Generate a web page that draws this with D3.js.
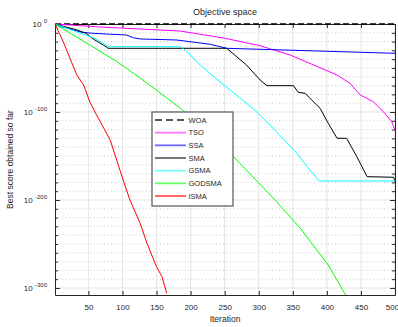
<!DOCTYPE html>
<html>
<head>
<meta charset="utf-8">
<script src="https://cdn.jsdelivr.net/npm/d3@7"></script>
<style>
body { margin: 0; background: #fff; }
text { font-family: "Liberation Sans", Arial, Helvetica, sans-serif; fill: #262626; }
</style>
</head>
<body>
<div id="chart"></div>
<script>
"use strict"

// series: iteration and log10 of best score
var woaIter = [1, 500];
var woaExp = [0, 0];
var tsoIter = [1, 67, 185, 251, 302, 346, 390, 415, 434, 449, 468, 483, 495, 500];
var tsoExp = [0, -3.4, -8, -16.3, -24.7, -35.2, -49.7, -58, -67.4, -80.7, -88.3, -99.7, -111, -120.5];
var ssaIter = [1, 28, 40, 57, 106, 116, 126, 180, 199, 229, 253, 500];
var ssaExp = [-1, -6.8, -9.4, -10.6, -12.5, -15.6, -17, -18.2, -20.1, -23.1, -27.6, -33.3];
var smaIter = [1, 33, 47, 57, 72, 79, 253, 282, 302, 312, 351, 358, 368, 390, 402, 415, 429, 444, 459, 498, 500];
var smaExp = [0, -6.8, -10.6, -17, -23.9, -27.6, -27.6, -46.6, -63.6, -70.1, -70.1, -77.6, -78.8, -95.8, -112.8, -129.9, -129.9, -150.8, -173.5, -174.2, -179.2];
var gsmaIter = [1, 57, 72, 79, 185, 192, 214, 243, 273, 297, 326, 356, 375, 389, 500];
var gsmaExp = [0, -15.6, -21.9, -25.8, -25.8, -29.5, -46.6, -65.6, -84.4, -99.7, -122.4, -146.9, -165.9, -178.4, -178.4];
var godsmaIter = [1, 52, 92, 140, 185, 263, 324, 361, 402, 429];
var godsmaExp = [0, -23.9, -42.8, -69.3, -95.8, -150.8, -200, -232.2, -273.9, -309.9];
var ismaIter = [1, 13, 23, 33, 43, 52, 62, 82, 101, 111, 126, 136, 150, 158, 165];
var ismaExp = [0, -20.1, -39, -57.9, -69.3, -88.3, -103.4, -131.8, -177.3, -200, -226.5, -249.2, -275.8, -287.2, -306];

var names = ['WOA', 'TSO', 'SSA', 'SMA', 'GSMA', 'GODSMA', 'ISMA'];
var xTicks = [50, 100, 150, 200, 250, 300, 350, 400, 450, 500];
var yTicks = [0, -100, -200, -300];

var series = [
    {name: names[0], iter: woaIter, exp: woaExp},
    {name: names[1], iter: tsoIter, exp: tsoExp},
    {name: names[2], iter: ssaIter, exp: ssaExp},
    {name: names[3], iter: smaIter, exp: smaExp},
    {name: names[4], iter: gsmaIter, exp: gsmaExp},
    {name: names[5], iter: godsmaIter, exp: godsmaExp},
    {name: names[6], iter: ismaIter, exp: ismaExp}
];
var colors = ['#000000', '#ff00ff', '#0000ff', '#000000', '#00ffff', '#00ff00', '#ff0000'];
var legendColors = ['#555555', '#ff77ff', '#6b6bff', '#666666', '#77ffff', '#66ff66', '#ff5555'];

var width = 398, height = 327;
var margin = {top: 24, right: 3, bottom: 32, left: 55};
var plotW = width - margin.left - margin.right;
var plotH = height - margin.top - margin.bottom;

var svg = d3.select("#chart")
    .append("svg")
    .attr("width", width)
    .attr("height", height);

var x = d3.scaleLinear().domain([1, 500]).range([0, plotW]);
var y = d3.scaleLinear().domain([0, -308]).range([0, plotH]);

var g = svg.append("g")
    .attr("transform", "translate(" + margin.left + "," + margin.top + ")");

// minor grid, dotted every 10 decades
var minor = d3.range(-10, -308, -10).filter(function(v) { return v % 100 !== 0; });
g.append("g").selectAll("line")
    .data(minor)
    .enter().append("line")
    .attr("x1", 0).attr("x2", plotW)
    .attr("y1", function(d) { return y(d); }).attr("y2", function(d) { return y(d); })
    .attr("stroke", "#bdbdbd")
    .attr("stroke-width", 0.8)
    .attr("stroke-dasharray", "1,2.5");

// major grid
g.append("g").selectAll("line")
    .data(yTicks)
    .enter().append("line")
    .attr("x1", 0).attr("x2", plotW)
    .attr("y1", function(d) { return y(d); }).attr("y2", function(d) { return y(d); })
    .attr("stroke", "#e3e3e3");
g.append("g").selectAll("line")
    .data(xTicks)
    .enter().append("line")
    .attr("x1", function(d) { return x(d); }).attr("x2", function(d) { return x(d); })
    .attr("y1", 0).attr("y2", plotH)
    .attr("stroke", "#e3e3e3");

// axes, ticks pointing inward
g.append("g")
    .attr("transform", "translate(0," + plotH + ")")
    .call(d3.axisBottom(x).tickValues(xTicks).tickSizeInner(-4).tickSizeOuter(0).tickPadding(9))
    .call(function(a) {
        a.select(".domain").attr("stroke", "#262626").attr("stroke-width", 1.2);
        a.selectAll("text").attr("font-size", 8).style("font-family", "Liberation Sans, Arial, sans-serif").attr("fill", "#262626");
        // last label sits at the window edge, keep it inside
        a.selectAll("text").filter(function(d) { return d === 500; }).attr("dx", -3);
    });
g.append("g")
    .call(d3.axisTop(x).tickValues(xTicks).tickSizeInner(-4).tickSizeOuter(0).tickFormat(""))
    .call(function(a) { a.select(".domain").attr("stroke", "#262626"); });

g.append("g")
    .call(d3.axisLeft(y).tickValues(yTicks).tickSizeInner(-5).tickSizeOuter(0).tickFormat(""))
    .call(function(a) { a.select(".domain").attr("stroke", "#262626"); });
g.append("g")
    .attr("transform", "translate(" + plotW + ",0)")
    .call(d3.axisRight(y).tickValues(yTicks).tickSizeInner(-5).tickSizeOuter(0).tickFormat(""))
    .call(function(a) { a.select(".domain").attr("stroke", "#262626"); });
g.append("g")
    .call(d3.axisLeft(y).tickValues(minor).tickSizeInner(-3).tickSizeOuter(0).tickFormat(""))
    .call(function(a) { a.select(".domain").remove(); });
g.append("g")
    .attr("transform", "translate(" + plotW + ",0)")
    .call(d3.axisRight(y).tickValues(minor).tickSizeInner(-3).tickSizeOuter(0).tickFormat(""))
    .call(function(a) { a.select(".domain").remove(); });
g.selectAll(".tick line").attr("stroke", "#262626");

// y tick labels as 10^n
var yLab = g.append("g").selectAll("text")
    .data(yTicks)
    .enter().append("text")
    .attr("x", -8)
    .attr("y", function(d) { return y(d) + 3; })
    .attr("text-anchor", "end")
    .attr("font-size", 8);
yLab.append("tspan").text("10 ");
yLab.append("tspan")
    .attr("font-size", 6)
    .attr("dy", -4)
    .text(function(d) { return d; });

// lines
svg.append("clipPath").attr("id", "clip")
    .append("rect").attr("x", -1).attr("y", -1).attr("width", plotW + 2).attr("height", plotH + 1);

var line = d3.line()
    .x(function(d) { return x(d[0]); })
    .y(function(d) { return y(d[1]); });

g.append("g").attr("clip-path", "url(#clip)")
    .selectAll("path")
    .data(series)
    .enter().append("path")
    .attr("d", function(s) { return line(d3.zip(s.iter, s.exp)); })
    .attr("fill", "none")
    .attr("stroke", function(s, i) { return colors[i]; })
    .attr("stroke-width", function(s, i) { return i === 0 ? 1.4 : 1; })
    .attr("stroke-dasharray", function(s, i) { return i === 0 ? "6,3" : null; });

// legend
var legend = svg.append("g").attr("transform", "translate(152,112)");
legend.append("rect")
    .attr("width", 81).attr("height", 94)
    .attr("fill", "#fff")
    .attr("stroke", "#555")
    .attr("stroke-width", 1.2);
var item = legend.selectAll(".item")
    .data(names)
    .enter().append("g")
    .attr("transform", function(d, i) { return "translate(0," + (8 + i * 12.67) + ")"; });
item.append("line")
    .attr("x1", 3).attr("x2", 34)
    .attr("stroke", function(d, i) { return legendColors[i]; })
    .attr("stroke-width", 1.8)
    .attr("stroke-dasharray", function(d, i) { return i === 0 ? "7,4" : null; });
item.append("text")
    .attr("x", 36.5).attr("y", 2.6)
    .attr("font-size", 7.5)
    .text(function(d) { return d; });

// titles
svg.append("text")
    .attr("x", margin.left + plotW / 2).attr("y", 15)
    .attr("text-anchor", "middle")
    .attr("font-size", 9)
    .text("Objective space");
svg.append("text")
    .attr("x", margin.left + plotW / 2).attr("y", 322)
    .attr("text-anchor", "middle")
    .attr("font-size", 8.5)
    .text("Iteration");
svg.append("text")
    .attr("transform", "translate(13," + (margin.top + plotH / 2) + ") rotate(-90)")
    .attr("text-anchor", "middle")
    .attr("font-size", 8.5)
    .text("Best score obtained so far");
</script>
</body>
</html>
